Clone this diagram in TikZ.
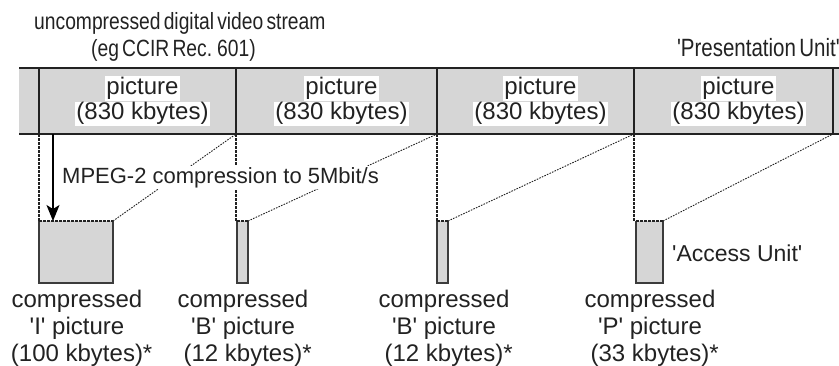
\documentclass[tikz,border=0pt]{standalone}
\usepackage{fontspec}
\setmainfont{Liberation Sans}[Ligatures=TeXOff]
\newfontfamily\narrowfont{Liberation Sans}[Ligatures=TeXOff,FakeStretch=0.82,WordSpace=0.6]
\usetikzlibrary{arrows.meta}
\definecolor{cellgray}{RGB}{214,214,214}
\definecolor{ink}{RGB}{34,34,34}
\definecolor{edge}{RGB}{60,60,60}
\newcommand\whitebg[1]{{\setlength{\fboxsep}{1pt}\colorbox{white}{#1}}}
\begin{document}
\begin{tikzpicture}[x=1pt,y=-1pt,
  cell/.style={fill=cellgray, draw=none, minimum height=66pt, inner sep=0pt, outer sep=0pt},
  cbox/.style={fill=cellgray, draw=none, minimum height=62pt, inner sep=0pt, outer sep=0pt},
  rule/.style={draw=ink, line width=2pt},
  boxside/.style={draw=edge, line width=1.2pt},
  vdots/.style={draw=ink, line width=1.6pt, dash pattern=on 2.5pt off 1.5pt},
  ddots/.style={draw=ink, line width=0.9pt, dash pattern=on 1.6pt off 1.2pt},
  piclabel/.style={align=center, inner sep=0pt, text=ink, font=\fontsize{24}{24}\selectfont},
  complabel/.style={align=center, inner sep=0pt, anchor=north, text=ink, font=\fontsize{24}{27}\selectfont},
  plain/.style={inner sep=0pt, text=ink}]
\useasboundingbox (0,0) rectangle (839,365);

% the uncompressed stream of pictures
\node[cell, minimum width=20pt]  (p0) at (29,101) {};
\node[cell, minimum width=197pt] (p1) at (137.5,101) {};
\node[cell, minimum width=201pt] (p2) at (336.5,101) {};
\node[cell, minimum width=197pt] (p3) at (535.5,101) {};
\node[cell, minimum width=199pt] (p4) at (733.5,101) {};
\node[cell, minimum width=6pt]   (p5) at (836,101) {};
\draw[rule] (p0.north west) -- (p5.north east);
\draw[rule] (p0.south west) -- (p5.south east);
\foreach \c in {p1,p2,p3,p4}
  \draw[rule] (\c.north west) -- (\c.south west);
\draw[rule] (p4.north east) -- (p4.south east);

\foreach \c/\n in {p1/l1,p2/l2,p3/l3,p4/l4}
  \node[piclabel] (\n) at ([xshift=5pt]\c.center) {\whitebg{picture}\\\whitebg{(830 kbytes)}};

% compressed access units
\node[cbox, minimum width=74pt] (I)  at (76,252) {};
\node[cbox, minimum width=11pt] (B1) at (242.5,252) {};
\node[cbox, minimum width=11pt] (B2) at (442.5,252) {};
\node[cbox, minimum width=27pt] (P)  at (649.5,252) {};
\foreach \b in {I,B1,B2,P} {
  \draw[boxside] (\b.north west) -- (\b.south west) -- (\b.south east) -- (\b.north east);
  \draw[vdots, line width=1.1pt] (\b.north west) -- (\b.north east);
}

% projections from the pictures to the compressed units
\draw[vdots] (p1.south west) -- (I.north west);
\draw[vdots] (p2.south west) -- (p2.south west |- B1.north);
\draw[vdots] (p3.south west) -- (p3.south west |- B2.north);
\draw[vdots] (p4.south west) -- (p4.south west |- P.north);
\draw[ddots] (I.north east) -- (p1.south east);
\draw[ddots] (B1.north east) -- (p2.south east);
\draw[ddots] (B2.north east) -- (p3.south east);
\draw[ddots] (P.north east) -- (p4.south east);

% compression arrow
\coordinate (a0) at ([xshift=14pt]p1.south west);
\draw[draw=black, line width=1.6pt, -{Stealth[length=16pt,width=13pt,inset=4pt]}] (a0) -- (a0 |- I.north);
\node[plain, fill=white, inner sep=1pt, anchor=base west, font=\fontsize{22}{26}\selectfont] (mpeg) at (61,183) {MPEG-2 compression to 5Mbit/s};

% captions
\node[plain, anchor=base west, font=\narrowfont\fontsize{23.5}{26}\selectfont] (t1) at (34,29) {uncompressed digital video stream};
\node[plain, anchor=base west, font=\narrowfont\fontsize{23.5}{26}\selectfont] (t2) at (91,56) {(eg CCIR Rec. 601)};
\node[plain, anchor=base east, font=\narrowfont\fontsize{25}{26}\selectfont] (pu) at (840,56) {'Presentation Unit'};
\node[plain, anchor=west, font=\fontsize{23}{26}\selectfont] (au) at (672,253) {'Access Unit'};

\node[complabel] (cI)  at (77,290)  {compressed\\'I' picture\\(100 kbytes)\rlap{*}};
\node[complabel] (cB1) at (243,290) {compressed\\'B' picture\\(12 kbytes)\rlap{*}};
\node[complabel] (cB2) at (444,290) {compressed\\'B' picture\\(12 kbytes)\rlap{*}};
\node[complabel] (cP)  at (650,290) {compressed\\'P' picture\\(33 kbytes)\rlap{*}};
\end{tikzpicture}
\end{document}
